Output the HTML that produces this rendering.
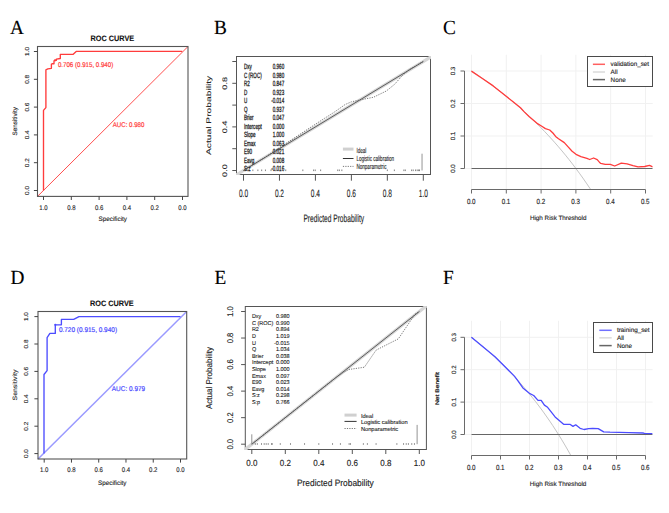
<!DOCTYPE html>
<html><head><meta charset="utf-8"><title>Figure</title>
<style>
html,body{margin:0;padding:0;background:#fff;overflow:hidden;}
svg{display:block;}
text{text-rendering:geometricPrecision;}
</style></head>
<body>
<svg width="669" height="513" viewBox="0 0 669 513">
<rect width="669" height="513" fill="#fff"/>
<text transform="translate(10.10,33.60) rotate(0) scale(1.0,1.04)" x="0" y="0" font-size="19.3" text-anchor="start" fill="#000" stroke="#000" stroke-width="0.15" font-weight="normal" font-family='"Liberation Serif", serif'>A</text>
<text transform="translate(214.10,33.60) rotate(0) scale(1.0,1.04)" x="0" y="0" font-size="19.3" text-anchor="start" fill="#000" stroke="#000" stroke-width="0.15" font-weight="normal" font-family='"Liberation Serif", serif'>B</text>
<text transform="translate(442.90,33.60) rotate(0) scale(1.0,1.04)" x="0" y="0" font-size="19.3" text-anchor="start" fill="#000" stroke="#000" stroke-width="0.15" font-weight="normal" font-family='"Liberation Serif", serif'>C</text>
<text transform="translate(10.50,284.40) rotate(0) scale(1.0,1.04)" x="0" y="0" font-size="19.3" text-anchor="start" fill="#000" stroke="#000" stroke-width="0.15" font-weight="normal" font-family='"Liberation Serif", serif'>D</text>
<text transform="translate(214.40,284.40) rotate(0) scale(1.0,1.04)" x="0" y="0" font-size="19.3" text-anchor="start" fill="#000" stroke="#000" stroke-width="0.15" font-weight="normal" font-family='"Liberation Serif", serif'>E</text>
<text transform="translate(442.90,284.40) rotate(0) scale(1.0,1.04)" x="0" y="0" font-size="19.3" text-anchor="start" fill="#000" stroke="#000" stroke-width="0.15" font-weight="normal" font-family='"Liberation Serif", serif'>F</text>
<line x1="37.50" y1="196.40" x2="188.00" y2="46.50" stroke="#ff5050" stroke-width="1.0" />
<polyline points="43.50,190.40 43.50,110.40 45.90,107.60 45.90,69.80 47.80,68.90 51.40,68.30 51.40,64.10 52.60,63.70 54.00,63.70 54.00,60.90 55.10,60.30 56.40,60.30 56.40,59.10 60.30,58.50 60.30,54.30 73.20,54.30 76.20,51.40 182.30,51.40" fill="none" stroke="#ff3c3c" stroke-width="1.35" stroke-linejoin="round" />
<circle cx="55.1" cy="60.3" r="1.1" fill="#ff3c3c"/>
<rect x="37.50" y="46.50" width="150.50" height="149.90" stroke="#555" stroke-width="1.1" fill="none"/>
<line x1="182.50" y1="196.40" x2="182.50" y2="200.00" stroke="#444" stroke-width="1" />
<text transform="translate(182.50,209.50) rotate(0) scale(0.95,1.06)" x="0" y="0" font-size="6.3" text-anchor="middle" fill="#222" stroke="#222" stroke-width="0.12" font-weight="normal" font-family='"Liberation Sans", sans-serif'>0.0</text>
<line x1="33.90" y1="190.50" x2="37.50" y2="190.50" stroke="#444" stroke-width="1" />
<text transform="translate(28.90,190.50) rotate(-90) scale(1.02,0.92)" x="0" y="0" font-size="6.3" text-anchor="middle" fill="#222" stroke="#222" stroke-width="0.12" font-weight="normal" font-family='"Liberation Sans", sans-serif'>0.0</text>
<line x1="154.70" y1="196.40" x2="154.70" y2="200.00" stroke="#444" stroke-width="1" />
<text transform="translate(154.70,209.50) rotate(0) scale(0.95,1.06)" x="0" y="0" font-size="6.3" text-anchor="middle" fill="#222" stroke="#222" stroke-width="0.12" font-weight="normal" font-family='"Liberation Sans", sans-serif'>0.2</text>
<line x1="33.90" y1="162.70" x2="37.50" y2="162.70" stroke="#444" stroke-width="1" />
<text transform="translate(28.90,162.70) rotate(-90) scale(1.02,0.92)" x="0" y="0" font-size="6.3" text-anchor="middle" fill="#222" stroke="#222" stroke-width="0.12" font-weight="normal" font-family='"Liberation Sans", sans-serif'>0.2</text>
<line x1="126.90" y1="196.40" x2="126.90" y2="200.00" stroke="#444" stroke-width="1" />
<text transform="translate(126.90,209.50) rotate(0) scale(0.95,1.06)" x="0" y="0" font-size="6.3" text-anchor="middle" fill="#222" stroke="#222" stroke-width="0.12" font-weight="normal" font-family='"Liberation Sans", sans-serif'>0.4</text>
<line x1="33.90" y1="134.90" x2="37.50" y2="134.90" stroke="#444" stroke-width="1" />
<text transform="translate(28.90,134.90) rotate(-90) scale(1.02,0.92)" x="0" y="0" font-size="6.3" text-anchor="middle" fill="#222" stroke="#222" stroke-width="0.12" font-weight="normal" font-family='"Liberation Sans", sans-serif'>0.4</text>
<line x1="99.10" y1="196.40" x2="99.10" y2="200.00" stroke="#444" stroke-width="1" />
<text transform="translate(99.10,209.50) rotate(0) scale(0.95,1.06)" x="0" y="0" font-size="6.3" text-anchor="middle" fill="#222" stroke="#222" stroke-width="0.12" font-weight="normal" font-family='"Liberation Sans", sans-serif'>0.6</text>
<line x1="33.90" y1="107.10" x2="37.50" y2="107.10" stroke="#444" stroke-width="1" />
<text transform="translate(28.90,107.10) rotate(-90) scale(1.02,0.92)" x="0" y="0" font-size="6.3" text-anchor="middle" fill="#222" stroke="#222" stroke-width="0.12" font-weight="normal" font-family='"Liberation Sans", sans-serif'>0.6</text>
<line x1="71.30" y1="196.40" x2="71.30" y2="200.00" stroke="#444" stroke-width="1" />
<text transform="translate(71.30,209.50) rotate(0) scale(0.95,1.06)" x="0" y="0" font-size="6.3" text-anchor="middle" fill="#222" stroke="#222" stroke-width="0.12" font-weight="normal" font-family='"Liberation Sans", sans-serif'>0.8</text>
<line x1="33.90" y1="79.30" x2="37.50" y2="79.30" stroke="#444" stroke-width="1" />
<text transform="translate(28.90,79.30) rotate(-90) scale(1.02,0.92)" x="0" y="0" font-size="6.3" text-anchor="middle" fill="#222" stroke="#222" stroke-width="0.12" font-weight="normal" font-family='"Liberation Sans", sans-serif'>0.8</text>
<line x1="43.50" y1="196.40" x2="43.50" y2="200.00" stroke="#444" stroke-width="1" />
<text transform="translate(43.50,209.50) rotate(0) scale(0.95,1.06)" x="0" y="0" font-size="6.3" text-anchor="middle" fill="#222" stroke="#222" stroke-width="0.12" font-weight="normal" font-family='"Liberation Sans", sans-serif'>1.0</text>
<line x1="33.90" y1="51.50" x2="37.50" y2="51.50" stroke="#444" stroke-width="1" />
<text transform="translate(28.90,51.50) rotate(-90) scale(1.02,0.92)" x="0" y="0" font-size="6.3" text-anchor="middle" fill="#222" stroke="#222" stroke-width="0.12" font-weight="normal" font-family='"Liberation Sans", sans-serif'>1.0</text>
<text transform="translate(112.40,41.30) rotate(0) scale(1.0,1.07)" x="0" y="0" font-size="7.3" text-anchor="middle" fill="#111" stroke="#111" stroke-width="0.1" font-weight="bold" font-family='"Liberation Sans", sans-serif'>ROC CURVE</text>
<text x="112.80" y="221.30" font-size="6.3" text-anchor="middle" fill="#222" stroke="#222" stroke-width="0.12" font-weight="normal" font-family='"Liberation Sans", sans-serif' >Specificity</text>
<text transform="translate(17.20,121.30) rotate(-90) scale(1.0,1.0)" x="0" y="0" font-size="6.3" text-anchor="middle" fill="#222" stroke="#222" stroke-width="0.12" font-weight="normal" font-family='"Liberation Sans", sans-serif'>Sensitivity</text>
<text transform="translate(57.90,67.10) rotate(0) scale(0.975,1.1)" x="0" y="0" font-size="6.3" text-anchor="start" fill="#ff3c3c" stroke="#ff3c3c" stroke-width="0.18" font-weight="normal" font-family='"Liberation Sans", sans-serif'>0.706 (0.915, 0.940)</text>
<text transform="translate(112.70,126.60) rotate(0) scale(0.975,1.1)" x="0" y="0" font-size="6.3" text-anchor="start" fill="#ff3c3c" stroke="#ff3c3c" stroke-width="0.18" font-weight="normal" font-family='"Liberation Sans", sans-serif'>AUC: 0.980</text>
<line x1="38.00" y1="459.00" x2="186.70" y2="311.50" stroke="#9a9aff" stroke-width="1.5" />
<polyline points="44.00,453.60 44.00,374.50 47.10,370.60 47.10,337.60 49.90,333.40 55.30,333.40 55.30,324.80 61.40,324.80 61.40,319.40 73.70,319.40 79.00,316.60 180.50,316.60" fill="none" stroke="#4c4cff" stroke-width="1.35" stroke-linejoin="round" />
<circle cx="55.3" cy="324.8" r="1.1" fill="#4c4cff"/>
<rect x="38.00" y="311.50" width="148.70" height="147.50" stroke="#555" stroke-width="1.1" fill="none"/>
<line x1="180.50" y1="459.00" x2="180.50" y2="462.60" stroke="#444" stroke-width="1" />
<text transform="translate(180.50,472.30) rotate(0) scale(0.95,1.06)" x="0" y="0" font-size="6.3" text-anchor="middle" fill="#222" stroke="#222" stroke-width="0.12" font-weight="normal" font-family='"Liberation Sans", sans-serif'>0.0</text>
<line x1="34.40" y1="453.60" x2="38.00" y2="453.60" stroke="#444" stroke-width="1" />
<text transform="translate(28.30,453.60) rotate(-90) scale(1.02,0.92)" x="0" y="0" font-size="6.3" text-anchor="middle" fill="#222" stroke="#222" stroke-width="0.12" font-weight="normal" font-family='"Liberation Sans", sans-serif'>0.0</text>
<line x1="153.24" y1="459.00" x2="153.24" y2="462.60" stroke="#444" stroke-width="1" />
<text transform="translate(153.24,472.30) rotate(0) scale(0.95,1.06)" x="0" y="0" font-size="6.3" text-anchor="middle" fill="#222" stroke="#222" stroke-width="0.12" font-weight="normal" font-family='"Liberation Sans", sans-serif'>0.2</text>
<line x1="34.40" y1="426.20" x2="38.00" y2="426.20" stroke="#444" stroke-width="1" />
<text transform="translate(28.30,426.20) rotate(-90) scale(1.02,0.92)" x="0" y="0" font-size="6.3" text-anchor="middle" fill="#222" stroke="#222" stroke-width="0.12" font-weight="normal" font-family='"Liberation Sans", sans-serif'>0.2</text>
<line x1="125.98" y1="459.00" x2="125.98" y2="462.60" stroke="#444" stroke-width="1" />
<text transform="translate(125.98,472.30) rotate(0) scale(0.95,1.06)" x="0" y="0" font-size="6.3" text-anchor="middle" fill="#222" stroke="#222" stroke-width="0.12" font-weight="normal" font-family='"Liberation Sans", sans-serif'>0.4</text>
<line x1="34.40" y1="398.80" x2="38.00" y2="398.80" stroke="#444" stroke-width="1" />
<text transform="translate(28.30,398.80) rotate(-90) scale(1.02,0.92)" x="0" y="0" font-size="6.3" text-anchor="middle" fill="#222" stroke="#222" stroke-width="0.12" font-weight="normal" font-family='"Liberation Sans", sans-serif'>0.4</text>
<line x1="98.72" y1="459.00" x2="98.72" y2="462.60" stroke="#444" stroke-width="1" />
<text transform="translate(98.72,472.30) rotate(0) scale(0.95,1.06)" x="0" y="0" font-size="6.3" text-anchor="middle" fill="#222" stroke="#222" stroke-width="0.12" font-weight="normal" font-family='"Liberation Sans", sans-serif'>0.6</text>
<line x1="34.40" y1="371.40" x2="38.00" y2="371.40" stroke="#444" stroke-width="1" />
<text transform="translate(28.30,371.40) rotate(-90) scale(1.02,0.92)" x="0" y="0" font-size="6.3" text-anchor="middle" fill="#222" stroke="#222" stroke-width="0.12" font-weight="normal" font-family='"Liberation Sans", sans-serif'>0.6</text>
<line x1="71.46" y1="459.00" x2="71.46" y2="462.60" stroke="#444" stroke-width="1" />
<text transform="translate(71.46,472.30) rotate(0) scale(0.95,1.06)" x="0" y="0" font-size="6.3" text-anchor="middle" fill="#222" stroke="#222" stroke-width="0.12" font-weight="normal" font-family='"Liberation Sans", sans-serif'>0.8</text>
<line x1="34.40" y1="344.00" x2="38.00" y2="344.00" stroke="#444" stroke-width="1" />
<text transform="translate(28.30,344.00) rotate(-90) scale(1.02,0.92)" x="0" y="0" font-size="6.3" text-anchor="middle" fill="#222" stroke="#222" stroke-width="0.12" font-weight="normal" font-family='"Liberation Sans", sans-serif'>0.8</text>
<line x1="44.20" y1="459.00" x2="44.20" y2="462.60" stroke="#444" stroke-width="1" />
<text transform="translate(44.20,472.30) rotate(0) scale(0.95,1.06)" x="0" y="0" font-size="6.3" text-anchor="middle" fill="#222" stroke="#222" stroke-width="0.12" font-weight="normal" font-family='"Liberation Sans", sans-serif'>1.0</text>
<line x1="34.40" y1="316.60" x2="38.00" y2="316.60" stroke="#444" stroke-width="1" />
<text transform="translate(28.30,316.60) rotate(-90) scale(1.02,0.92)" x="0" y="0" font-size="6.3" text-anchor="middle" fill="#222" stroke="#222" stroke-width="0.12" font-weight="normal" font-family='"Liberation Sans", sans-serif'>1.0</text>
<text transform="translate(111.90,305.60) rotate(0) scale(1.0,1.07)" x="0" y="0" font-size="7.3" text-anchor="middle" fill="#111" stroke="#111" stroke-width="0.1" font-weight="bold" font-family='"Liberation Sans", sans-serif'>ROC CURVE</text>
<text x="112.30" y="485.00" font-size="6.3" text-anchor="middle" fill="#222" stroke="#222" stroke-width="0.12" font-weight="normal" font-family='"Liberation Sans", sans-serif' >Specificity</text>
<text transform="translate(16.60,385.00) rotate(-90) scale(1.0,0.9208103130755064)" x="0" y="0" font-size="6.8418" text-anchor="middle" fill="#222" stroke="#222" stroke-width="0.12" font-weight="normal" font-family='"Liberation Sans", sans-serif'>Sensitivity</text>
<text transform="translate(58.90,331.70) rotate(0) scale(1.025,1.1)" x="0" y="0" font-size="6.3" text-anchor="start" fill="#4c4cff" stroke="#4c4cff" stroke-width="0.18" font-weight="normal" font-family='"Liberation Sans", sans-serif'>0.720 (0.915, 0.940)</text>
<text transform="translate(111.80,390.70) rotate(0) scale(1.025,1.1)" x="0" y="0" font-size="6.3" text-anchor="start" fill="#4c4cff" stroke="#4c4cff" stroke-width="0.18" font-weight="normal" font-family='"Liberation Sans", sans-serif'>AUC: 0.979</text>
<rect x="236.50" y="56.50" width="194.00" height="118.00" stroke="#555" stroke-width="1.0" fill="none"/>
<line x1="243.50" y1="174.50" x2="243.50" y2="180.70" stroke="#555" stroke-width="1" />
<text transform="translate(243.50,197.00) rotate(0) scale(0.62,1.0)" x="0" y="0" font-size="10.6" text-anchor="middle" fill="#222" stroke="#222" stroke-width="0.12" font-weight="normal" font-family='"Liberation Sans", sans-serif'>0.0</text>
<line x1="232.30" y1="170.50" x2="236.50" y2="170.50" stroke="#555" stroke-width="1" />
<text transform="translate(227.00,170.50) rotate(-90) scale(1.0,0.72)" x="0" y="0" font-size="9.2" text-anchor="middle" fill="#222" stroke="#222" stroke-width="0.12" font-weight="normal" font-family='"Liberation Sans", sans-serif'>0.0</text>
<line x1="279.46" y1="174.50" x2="279.46" y2="180.70" stroke="#555" stroke-width="1" />
<text transform="translate(279.46,197.00) rotate(0) scale(0.62,1.0)" x="0" y="0" font-size="10.6" text-anchor="middle" fill="#222" stroke="#222" stroke-width="0.12" font-weight="normal" font-family='"Liberation Sans", sans-serif'>0.2</text>
<line x1="232.30" y1="148.70" x2="236.50" y2="148.70" stroke="#555" stroke-width="1" />
<line x1="315.42" y1="174.50" x2="315.42" y2="180.70" stroke="#555" stroke-width="1" />
<text transform="translate(315.42,197.00) rotate(0) scale(0.62,1.0)" x="0" y="0" font-size="10.6" text-anchor="middle" fill="#222" stroke="#222" stroke-width="0.12" font-weight="normal" font-family='"Liberation Sans", sans-serif'>0.4</text>
<line x1="232.30" y1="126.90" x2="236.50" y2="126.90" stroke="#555" stroke-width="1" />
<text transform="translate(227.00,126.90) rotate(-90) scale(1.0,0.72)" x="0" y="0" font-size="9.2" text-anchor="middle" fill="#222" stroke="#222" stroke-width="0.12" font-weight="normal" font-family='"Liberation Sans", sans-serif'>0.4</text>
<line x1="351.38" y1="174.50" x2="351.38" y2="180.70" stroke="#555" stroke-width="1" />
<text transform="translate(351.38,197.00) rotate(0) scale(0.62,1.0)" x="0" y="0" font-size="10.6" text-anchor="middle" fill="#222" stroke="#222" stroke-width="0.12" font-weight="normal" font-family='"Liberation Sans", sans-serif'>0.6</text>
<line x1="232.30" y1="105.10" x2="236.50" y2="105.10" stroke="#555" stroke-width="1" />
<line x1="387.34" y1="174.50" x2="387.34" y2="180.70" stroke="#555" stroke-width="1" />
<text transform="translate(387.34,197.00) rotate(0) scale(0.62,1.0)" x="0" y="0" font-size="10.6" text-anchor="middle" fill="#222" stroke="#222" stroke-width="0.12" font-weight="normal" font-family='"Liberation Sans", sans-serif'>0.8</text>
<line x1="232.30" y1="83.30" x2="236.50" y2="83.30" stroke="#555" stroke-width="1" />
<text transform="translate(227.00,83.30) rotate(-90) scale(1.0,0.72)" x="0" y="0" font-size="9.2" text-anchor="middle" fill="#222" stroke="#222" stroke-width="0.12" font-weight="normal" font-family='"Liberation Sans", sans-serif'>0.8</text>
<line x1="423.30" y1="174.50" x2="423.30" y2="180.70" stroke="#555" stroke-width="1" />
<text transform="translate(423.30,197.00) rotate(0) scale(0.62,1.0)" x="0" y="0" font-size="10.6" text-anchor="middle" fill="#222" stroke="#222" stroke-width="0.12" font-weight="normal" font-family='"Liberation Sans", sans-serif'>1.0</text>
<line x1="232.30" y1="61.50" x2="236.50" y2="61.50" stroke="#555" stroke-width="1" />
<clipPath id="clipB"><rect x="236.0" y="56.0" width="195.0" height="119.0"/></clipPath>
<g clip-path="url(#clipB)">
<line x1="232.71" y1="177.04" x2="434.09" y2="54.96" stroke="#d6d6d6" stroke-width="3.2" />
</g>
<clipPath id="clipBb"><rect x="237.0" y="57.0" width="193.0" height="117.0"/></clipPath>
<g clip-path="url(#clipBb)">
<text transform="translate(244.00,69.00) rotate(0) scale(0.6,1.0)" x="0" y="0" font-size="7.6" text-anchor="start" fill="#1a1a1a" stroke="#1a1a1a" stroke-width="0.3" font-weight="normal" font-family='"Liberation Sans", sans-serif'>Dxy</text>
<text transform="translate(284.20,69.00) rotate(0) scale(0.6,1.0)" x="0" y="0" font-size="7.6" text-anchor="end" fill="#1a1a1a" stroke="#1a1a1a" stroke-width="0.3" font-weight="normal" font-family='"Liberation Sans", sans-serif'>0.960</text>
<text transform="translate(244.00,77.50) rotate(0) scale(0.6,1.0)" x="0" y="0" font-size="7.6" text-anchor="start" fill="#1a1a1a" stroke="#1a1a1a" stroke-width="0.3" font-weight="normal" font-family='"Liberation Sans", sans-serif'>C (ROC)</text>
<text transform="translate(284.20,77.50) rotate(0) scale(0.6,1.0)" x="0" y="0" font-size="7.6" text-anchor="end" fill="#1a1a1a" stroke="#1a1a1a" stroke-width="0.3" font-weight="normal" font-family='"Liberation Sans", sans-serif'>0.980</text>
<text transform="translate(244.00,86.00) rotate(0) scale(0.6,1.0)" x="0" y="0" font-size="7.6" text-anchor="start" fill="#1a1a1a" stroke="#1a1a1a" stroke-width="0.3" font-weight="normal" font-family='"Liberation Sans", sans-serif'>R2</text>
<text transform="translate(284.20,86.00) rotate(0) scale(0.6,1.0)" x="0" y="0" font-size="7.6" text-anchor="end" fill="#1a1a1a" stroke="#1a1a1a" stroke-width="0.3" font-weight="normal" font-family='"Liberation Sans", sans-serif'>0.847</text>
<text transform="translate(244.00,94.50) rotate(0) scale(0.6,1.0)" x="0" y="0" font-size="7.6" text-anchor="start" fill="#1a1a1a" stroke="#1a1a1a" stroke-width="0.3" font-weight="normal" font-family='"Liberation Sans", sans-serif'>D</text>
<text transform="translate(284.20,94.50) rotate(0) scale(0.6,1.0)" x="0" y="0" font-size="7.6" text-anchor="end" fill="#1a1a1a" stroke="#1a1a1a" stroke-width="0.3" font-weight="normal" font-family='"Liberation Sans", sans-serif'>0.923</text>
<text transform="translate(244.00,103.00) rotate(0) scale(0.6,1.0)" x="0" y="0" font-size="7.6" text-anchor="start" fill="#1a1a1a" stroke="#1a1a1a" stroke-width="0.3" font-weight="normal" font-family='"Liberation Sans", sans-serif'>U</text>
<text transform="translate(284.20,103.00) rotate(0) scale(0.6,1.0)" x="0" y="0" font-size="7.6" text-anchor="end" fill="#1a1a1a" stroke="#1a1a1a" stroke-width="0.3" font-weight="normal" font-family='"Liberation Sans", sans-serif'>-0.014</text>
<text transform="translate(244.00,111.50) rotate(0) scale(0.6,1.0)" x="0" y="0" font-size="7.6" text-anchor="start" fill="#1a1a1a" stroke="#1a1a1a" stroke-width="0.3" font-weight="normal" font-family='"Liberation Sans", sans-serif'>Q</text>
<text transform="translate(284.20,111.50) rotate(0) scale(0.6,1.0)" x="0" y="0" font-size="7.6" text-anchor="end" fill="#1a1a1a" stroke="#1a1a1a" stroke-width="0.3" font-weight="normal" font-family='"Liberation Sans", sans-serif'>0.937</text>
<text transform="translate(244.00,120.00) rotate(0) scale(0.6,1.0)" x="0" y="0" font-size="7.6" text-anchor="start" fill="#1a1a1a" stroke="#1a1a1a" stroke-width="0.3" font-weight="normal" font-family='"Liberation Sans", sans-serif'>Brier</text>
<text transform="translate(284.20,120.00) rotate(0) scale(0.6,1.0)" x="0" y="0" font-size="7.6" text-anchor="end" fill="#1a1a1a" stroke="#1a1a1a" stroke-width="0.3" font-weight="normal" font-family='"Liberation Sans", sans-serif'>0.047</text>
<text transform="translate(244.00,128.50) rotate(0) scale(0.6,1.0)" x="0" y="0" font-size="7.6" text-anchor="start" fill="#1a1a1a" stroke="#1a1a1a" stroke-width="0.3" font-weight="normal" font-family='"Liberation Sans", sans-serif'>Intercept</text>
<text transform="translate(284.20,128.50) rotate(0) scale(0.6,1.0)" x="0" y="0" font-size="7.6" text-anchor="end" fill="#1a1a1a" stroke="#1a1a1a" stroke-width="0.3" font-weight="normal" font-family='"Liberation Sans", sans-serif'>0.000</text>
<text transform="translate(244.00,137.00) rotate(0) scale(0.6,1.0)" x="0" y="0" font-size="7.6" text-anchor="start" fill="#1a1a1a" stroke="#1a1a1a" stroke-width="0.3" font-weight="normal" font-family='"Liberation Sans", sans-serif'>Slope</text>
<text transform="translate(284.20,137.00) rotate(0) scale(0.6,1.0)" x="0" y="0" font-size="7.6" text-anchor="end" fill="#1a1a1a" stroke="#1a1a1a" stroke-width="0.3" font-weight="normal" font-family='"Liberation Sans", sans-serif'>1.000</text>
<text transform="translate(244.00,145.50) rotate(0) scale(0.6,1.0)" x="0" y="0" font-size="7.6" text-anchor="start" fill="#1a1a1a" stroke="#1a1a1a" stroke-width="0.3" font-weight="normal" font-family='"Liberation Sans", sans-serif'>Emax</text>
<text transform="translate(284.20,145.50) rotate(0) scale(0.6,1.0)" x="0" y="0" font-size="7.6" text-anchor="end" fill="#1a1a1a" stroke="#1a1a1a" stroke-width="0.3" font-weight="normal" font-family='"Liberation Sans", sans-serif'>0.063</text>
<text transform="translate(244.00,154.00) rotate(0) scale(0.6,1.0)" x="0" y="0" font-size="7.6" text-anchor="start" fill="#1a1a1a" stroke="#1a1a1a" stroke-width="0.3" font-weight="normal" font-family='"Liberation Sans", sans-serif'>E90</text>
<text transform="translate(284.20,154.00) rotate(0) scale(0.6,1.0)" x="0" y="0" font-size="7.6" text-anchor="end" fill="#1a1a1a" stroke="#1a1a1a" stroke-width="0.3" font-weight="normal" font-family='"Liberation Sans", sans-serif'>0.021</text>
<text transform="translate(244.00,162.50) rotate(0) scale(0.6,1.0)" x="0" y="0" font-size="7.6" text-anchor="start" fill="#1a1a1a" stroke="#1a1a1a" stroke-width="0.3" font-weight="normal" font-family='"Liberation Sans", sans-serif'>Eavg</text>
<text transform="translate(284.20,162.50) rotate(0) scale(0.6,1.0)" x="0" y="0" font-size="7.6" text-anchor="end" fill="#1a1a1a" stroke="#1a1a1a" stroke-width="0.3" font-weight="normal" font-family='"Liberation Sans", sans-serif'>0.008</text>
<text transform="translate(244.00,171.00) rotate(0) scale(0.6,1.0)" x="0" y="0" font-size="7.6" text-anchor="start" fill="#1a1a1a" stroke="#1a1a1a" stroke-width="0.3" font-weight="normal" font-family='"Liberation Sans", sans-serif'>S:z</text>
<text transform="translate(284.20,171.00) rotate(0) scale(0.6,1.0)" x="0" y="0" font-size="7.6" text-anchor="end" fill="#1a1a1a" stroke="#1a1a1a" stroke-width="0.3" font-weight="normal" font-family='"Liberation Sans", sans-serif'>-0.016</text>
<text transform="translate(244.00,179.50) rotate(0) scale(0.6,1.0)" x="0" y="0" font-size="7.6" text-anchor="start" fill="#1a1a1a" stroke="#1a1a1a" stroke-width="0.3" font-weight="normal" font-family='"Liberation Sans", sans-serif'>S:p</text>
<text transform="translate(284.20,179.50) rotate(0) scale(0.6,1.0)" x="0" y="0" font-size="7.6" text-anchor="end" fill="#1a1a1a" stroke="#1a1a1a" stroke-width="0.3" font-weight="normal" font-family='"Liberation Sans", sans-serif'>0.987</text>
<line x1="243.50" y1="170.50" x2="423.30" y2="61.50" stroke="#444" stroke-width="0.85" />
<polyline points="243.50,170.50 261.48,159.60 279.46,147.83 299.96,134.31 315.42,124.18 324.41,118.40 333.40,112.73 340.05,108.15 345.09,104.56 351.38,101.83 359.29,100.09 373.50,97.25 386.26,91.04 394.53,84.39 401.90,76.00 408.92,69.67 423.30,61.50" fill="none" stroke="#555" stroke-width="0.8" stroke-linejoin="round" stroke-dasharray="1.2,1.2"/>
<line x1="252.85" y1="169.50" x2="252.85" y2="171.10" stroke="#666" stroke-width="0.8" />
<line x1="257.88" y1="169.50" x2="257.88" y2="171.10" stroke="#666" stroke-width="0.8" />
<line x1="261.66" y1="169.50" x2="261.66" y2="171.10" stroke="#666" stroke-width="0.8" />
<line x1="265.44" y1="169.50" x2="265.44" y2="171.10" stroke="#666" stroke-width="0.8" />
<line x1="271.01" y1="169.50" x2="271.01" y2="171.10" stroke="#666" stroke-width="0.8" />
<line x1="285.75" y1="169.50" x2="285.75" y2="171.10" stroke="#666" stroke-width="0.8" />
<line x1="302.83" y1="169.50" x2="302.83" y2="171.10" stroke="#666" stroke-width="0.8" />
<line x1="313.62" y1="169.50" x2="313.62" y2="171.10" stroke="#666" stroke-width="0.8" />
<line x1="315.24" y1="169.50" x2="315.24" y2="171.10" stroke="#666" stroke-width="0.8" />
<line x1="320.63" y1="169.50" x2="320.63" y2="171.10" stroke="#666" stroke-width="0.8" />
<line x1="337.72" y1="169.50" x2="337.72" y2="171.10" stroke="#666" stroke-width="0.8" />
<line x1="339.33" y1="169.50" x2="339.33" y2="171.10" stroke="#666" stroke-width="0.8" />
<line x1="341.85" y1="169.50" x2="341.85" y2="171.10" stroke="#666" stroke-width="0.8" />
<line x1="387.34" y1="169.50" x2="387.34" y2="171.10" stroke="#666" stroke-width="0.8" />
<line x1="394.35" y1="169.50" x2="394.35" y2="171.10" stroke="#666" stroke-width="0.8" />
<line x1="403.88" y1="169.50" x2="403.88" y2="171.10" stroke="#666" stroke-width="0.8" />
<line x1="405.32" y1="169.50" x2="405.32" y2="171.10" stroke="#666" stroke-width="0.8" />
<line x1="411.61" y1="169.50" x2="411.61" y2="171.10" stroke="#666" stroke-width="0.8" />
<line x1="413.23" y1="169.50" x2="413.23" y2="171.10" stroke="#666" stroke-width="0.8" />
<line x1="415.57" y1="169.50" x2="415.57" y2="171.10" stroke="#666" stroke-width="0.8" />
<line x1="417.19" y1="169.50" x2="417.19" y2="171.10" stroke="#666" stroke-width="0.8" />
<line x1="418.63" y1="169.50" x2="418.63" y2="171.10" stroke="#666" stroke-width="0.8" />
<line x1="419.52" y1="169.50" x2="419.52" y2="171.10" stroke="#666" stroke-width="0.8" />
<line x1="422.04" y1="170.50" x2="422.04" y2="153.70" stroke="#888" stroke-width="0.9" />
</g>
<line x1="342.90" y1="149.10" x2="353.50" y2="149.10" stroke="#d0d0d0" stroke-width="3" />
<line x1="342.90" y1="158.50" x2="353.50" y2="158.50" stroke="#333" stroke-width="1" />
<line x1="342.90" y1="166.40" x2="353.50" y2="166.40" stroke="#555" stroke-width="0.8" stroke-dasharray="1.2,1.2"/>
<text transform="translate(356.40,152.86) rotate(0) scale(0.62,1.0)" x="0" y="0" font-size="7.4" text-anchor="start" fill="#222" stroke="#222" stroke-width="0.12" font-weight="normal" font-family='"Liberation Sans", sans-serif'>Ideal</text>
<text transform="translate(356.40,161.16) rotate(0) scale(0.62,1.0)" x="0" y="0" font-size="7.4" text-anchor="start" fill="#222" stroke="#222" stroke-width="0.12" font-weight="normal" font-family='"Liberation Sans", sans-serif'>Logistic calibration</text>
<text transform="translate(356.40,169.06) rotate(0) scale(0.62,1.0)" x="0" y="0" font-size="7.4" text-anchor="start" fill="#222" stroke="#222" stroke-width="0.12" font-weight="normal" font-family='"Liberation Sans", sans-serif'>Nonparametric</text>
<text transform="translate(333.80,221.70) rotate(0) scale(0.62,1.0)" x="0" y="0" font-size="10.7" text-anchor="middle" fill="#222" stroke="#222" stroke-width="0.12" font-weight="normal" font-family='"Liberation Sans", sans-serif'>Predicted Probability</text>
<text transform="translate(211.20,115.40) rotate(-90) scale(1.0,0.651)" x="0" y="0" font-size="10.271999999999998" text-anchor="middle" fill="#222" stroke="#222" stroke-width="0.12" font-weight="normal" font-family='"Liberation Sans", sans-serif'>Actual Probability</text>
<rect x="245.30" y="306.50" width="181.10" height="143.00" stroke="#555" stroke-width="1.0" fill="none"/>
<line x1="251.80" y1="449.50" x2="251.80" y2="454.00" stroke="#555" stroke-width="1" />
<text transform="translate(251.80,466.30) rotate(0) scale(1.0,1.1)" x="0" y="0" font-size="8.0" text-anchor="middle" fill="#222" stroke="#222" stroke-width="0.12" font-weight="normal" font-family='"Liberation Sans", sans-serif'>0.0</text>
<line x1="241.10" y1="444.20" x2="245.30" y2="444.20" stroke="#555" stroke-width="1" />
<text transform="translate(233.20,444.20) rotate(-90) scale(1.0,1.1)" x="0" y="0" font-size="7.6" text-anchor="middle" fill="#222" stroke="#222" stroke-width="0.12" font-weight="normal" font-family='"Liberation Sans", sans-serif'>0.0</text>
<line x1="285.30" y1="449.50" x2="285.30" y2="454.00" stroke="#555" stroke-width="1" />
<text transform="translate(285.30,466.30) rotate(0) scale(1.0,1.1)" x="0" y="0" font-size="8.0" text-anchor="middle" fill="#222" stroke="#222" stroke-width="0.12" font-weight="normal" font-family='"Liberation Sans", sans-serif'>0.2</text>
<line x1="241.10" y1="417.66" x2="245.30" y2="417.66" stroke="#555" stroke-width="1" />
<text transform="translate(233.20,417.66) rotate(-90) scale(1.0,1.1)" x="0" y="0" font-size="7.6" text-anchor="middle" fill="#222" stroke="#222" stroke-width="0.12" font-weight="normal" font-family='"Liberation Sans", sans-serif'>0.2</text>
<line x1="318.80" y1="449.50" x2="318.80" y2="454.00" stroke="#555" stroke-width="1" />
<text transform="translate(318.80,466.30) rotate(0) scale(1.0,1.1)" x="0" y="0" font-size="8.0" text-anchor="middle" fill="#222" stroke="#222" stroke-width="0.12" font-weight="normal" font-family='"Liberation Sans", sans-serif'>0.4</text>
<line x1="241.10" y1="391.12" x2="245.30" y2="391.12" stroke="#555" stroke-width="1" />
<text transform="translate(233.20,391.12) rotate(-90) scale(1.0,1.1)" x="0" y="0" font-size="7.6" text-anchor="middle" fill="#222" stroke="#222" stroke-width="0.12" font-weight="normal" font-family='"Liberation Sans", sans-serif'>0.4</text>
<line x1="352.30" y1="449.50" x2="352.30" y2="454.00" stroke="#555" stroke-width="1" />
<text transform="translate(352.30,466.30) rotate(0) scale(1.0,1.1)" x="0" y="0" font-size="8.0" text-anchor="middle" fill="#222" stroke="#222" stroke-width="0.12" font-weight="normal" font-family='"Liberation Sans", sans-serif'>0.6</text>
<line x1="241.10" y1="364.58" x2="245.30" y2="364.58" stroke="#555" stroke-width="1" />
<text transform="translate(233.20,364.58) rotate(-90) scale(1.0,1.1)" x="0" y="0" font-size="7.6" text-anchor="middle" fill="#222" stroke="#222" stroke-width="0.12" font-weight="normal" font-family='"Liberation Sans", sans-serif'>0.6</text>
<line x1="385.80" y1="449.50" x2="385.80" y2="454.00" stroke="#555" stroke-width="1" />
<text transform="translate(385.80,466.30) rotate(0) scale(1.0,1.1)" x="0" y="0" font-size="8.0" text-anchor="middle" fill="#222" stroke="#222" stroke-width="0.12" font-weight="normal" font-family='"Liberation Sans", sans-serif'>0.8</text>
<line x1="241.10" y1="338.04" x2="245.30" y2="338.04" stroke="#555" stroke-width="1" />
<text transform="translate(233.20,338.04) rotate(-90) scale(1.0,1.1)" x="0" y="0" font-size="7.6" text-anchor="middle" fill="#222" stroke="#222" stroke-width="0.12" font-weight="normal" font-family='"Liberation Sans", sans-serif'>0.8</text>
<line x1="419.30" y1="449.50" x2="419.30" y2="454.00" stroke="#555" stroke-width="1" />
<text transform="translate(419.30,466.30) rotate(0) scale(1.0,1.1)" x="0" y="0" font-size="8.0" text-anchor="middle" fill="#222" stroke="#222" stroke-width="0.12" font-weight="normal" font-family='"Liberation Sans", sans-serif'>1.0</text>
<line x1="241.10" y1="311.50" x2="245.30" y2="311.50" stroke="#555" stroke-width="1" />
<text transform="translate(233.20,311.50) rotate(-90) scale(1.0,1.1)" x="0" y="0" font-size="7.6" text-anchor="middle" fill="#222" stroke="#222" stroke-width="0.12" font-weight="normal" font-family='"Liberation Sans", sans-serif'>1.0</text>
<clipPath id="clipE"><rect x="244.8" y="306.0" width="182.09999999999997" height="144.0"/></clipPath>
<g clip-path="url(#clipE)">
<line x1="241.75" y1="452.16" x2="429.35" y2="303.54" stroke="#d6d6d6" stroke-width="3.2" />
</g>
<clipPath id="clipEb"><rect x="245.8" y="307.0" width="180.09999999999997" height="142.0"/></clipPath>
<g clip-path="url(#clipEb)">
<text transform="translate(251.90,318.10) rotate(0) scale(0.98,1.0)" x="0" y="0" font-size="5.6" text-anchor="start" fill="#1a1a1a" stroke="#1a1a1a" stroke-width="0.1" font-weight="normal" font-family='"Liberation Sans", sans-serif'>Dxy</text>
<text transform="translate(289.60,318.10) rotate(0) scale(0.98,1.0)" x="0" y="0" font-size="5.6" text-anchor="end" fill="#1a1a1a" stroke="#1a1a1a" stroke-width="0.1" font-weight="normal" font-family='"Liberation Sans", sans-serif'>0.980</text>
<text transform="translate(251.90,324.70) rotate(0) scale(0.98,1.0)" x="0" y="0" font-size="5.6" text-anchor="start" fill="#1a1a1a" stroke="#1a1a1a" stroke-width="0.1" font-weight="normal" font-family='"Liberation Sans", sans-serif'>C (ROC)</text>
<text transform="translate(289.60,324.70) rotate(0) scale(0.98,1.0)" x="0" y="0" font-size="5.6" text-anchor="end" fill="#1a1a1a" stroke="#1a1a1a" stroke-width="0.1" font-weight="normal" font-family='"Liberation Sans", sans-serif'>0.990</text>
<text transform="translate(251.90,331.30) rotate(0) scale(0.98,1.0)" x="0" y="0" font-size="5.6" text-anchor="start" fill="#1a1a1a" stroke="#1a1a1a" stroke-width="0.1" font-weight="normal" font-family='"Liberation Sans", sans-serif'>R2</text>
<text transform="translate(289.60,331.30) rotate(0) scale(0.98,1.0)" x="0" y="0" font-size="5.6" text-anchor="end" fill="#1a1a1a" stroke="#1a1a1a" stroke-width="0.1" font-weight="normal" font-family='"Liberation Sans", sans-serif'>0.894</text>
<text transform="translate(251.90,337.90) rotate(0) scale(0.98,1.0)" x="0" y="0" font-size="5.6" text-anchor="start" fill="#1a1a1a" stroke="#1a1a1a" stroke-width="0.1" font-weight="normal" font-family='"Liberation Sans", sans-serif'>D</text>
<text transform="translate(289.60,337.90) rotate(0) scale(0.98,1.0)" x="0" y="0" font-size="5.6" text-anchor="end" fill="#1a1a1a" stroke="#1a1a1a" stroke-width="0.1" font-weight="normal" font-family='"Liberation Sans", sans-serif'>1.019</text>
<text transform="translate(251.90,344.50) rotate(0) scale(0.98,1.0)" x="0" y="0" font-size="5.6" text-anchor="start" fill="#1a1a1a" stroke="#1a1a1a" stroke-width="0.1" font-weight="normal" font-family='"Liberation Sans", sans-serif'>U</text>
<text transform="translate(289.60,344.50) rotate(0) scale(0.98,1.0)" x="0" y="0" font-size="5.6" text-anchor="end" fill="#1a1a1a" stroke="#1a1a1a" stroke-width="0.1" font-weight="normal" font-family='"Liberation Sans", sans-serif'>-0.015</text>
<text transform="translate(251.90,351.10) rotate(0) scale(0.98,1.0)" x="0" y="0" font-size="5.6" text-anchor="start" fill="#1a1a1a" stroke="#1a1a1a" stroke-width="0.1" font-weight="normal" font-family='"Liberation Sans", sans-serif'>Q</text>
<text transform="translate(289.60,351.10) rotate(0) scale(0.98,1.0)" x="0" y="0" font-size="5.6" text-anchor="end" fill="#1a1a1a" stroke="#1a1a1a" stroke-width="0.1" font-weight="normal" font-family='"Liberation Sans", sans-serif'>1.034</text>
<text transform="translate(251.90,357.70) rotate(0) scale(0.98,1.0)" x="0" y="0" font-size="5.6" text-anchor="start" fill="#1a1a1a" stroke="#1a1a1a" stroke-width="0.1" font-weight="normal" font-family='"Liberation Sans", sans-serif'>Brier</text>
<text transform="translate(289.60,357.70) rotate(0) scale(0.98,1.0)" x="0" y="0" font-size="5.6" text-anchor="end" fill="#1a1a1a" stroke="#1a1a1a" stroke-width="0.1" font-weight="normal" font-family='"Liberation Sans", sans-serif'>0.038</text>
<text transform="translate(251.90,364.30) rotate(0) scale(0.98,1.0)" x="0" y="0" font-size="5.6" text-anchor="start" fill="#1a1a1a" stroke="#1a1a1a" stroke-width="0.1" font-weight="normal" font-family='"Liberation Sans", sans-serif'>Intercept</text>
<text transform="translate(289.60,364.30) rotate(0) scale(0.98,1.0)" x="0" y="0" font-size="5.6" text-anchor="end" fill="#1a1a1a" stroke="#1a1a1a" stroke-width="0.1" font-weight="normal" font-family='"Liberation Sans", sans-serif'>0.000</text>
<text transform="translate(251.90,370.90) rotate(0) scale(0.98,1.0)" x="0" y="0" font-size="5.6" text-anchor="start" fill="#1a1a1a" stroke="#1a1a1a" stroke-width="0.1" font-weight="normal" font-family='"Liberation Sans", sans-serif'>Slope</text>
<text transform="translate(289.60,370.90) rotate(0) scale(0.98,1.0)" x="0" y="0" font-size="5.6" text-anchor="end" fill="#1a1a1a" stroke="#1a1a1a" stroke-width="0.1" font-weight="normal" font-family='"Liberation Sans", sans-serif'>1.000</text>
<text transform="translate(251.90,377.50) rotate(0) scale(0.98,1.0)" x="0" y="0" font-size="5.6" text-anchor="start" fill="#1a1a1a" stroke="#1a1a1a" stroke-width="0.1" font-weight="normal" font-family='"Liberation Sans", sans-serif'>Emax</text>
<text transform="translate(289.60,377.50) rotate(0) scale(0.98,1.0)" x="0" y="0" font-size="5.6" text-anchor="end" fill="#1a1a1a" stroke="#1a1a1a" stroke-width="0.1" font-weight="normal" font-family='"Liberation Sans", sans-serif'>0.097</text>
<text transform="translate(251.90,384.10) rotate(0) scale(0.98,1.0)" x="0" y="0" font-size="5.6" text-anchor="start" fill="#1a1a1a" stroke="#1a1a1a" stroke-width="0.1" font-weight="normal" font-family='"Liberation Sans", sans-serif'>E90</text>
<text transform="translate(289.60,384.10) rotate(0) scale(0.98,1.0)" x="0" y="0" font-size="5.6" text-anchor="end" fill="#1a1a1a" stroke="#1a1a1a" stroke-width="0.1" font-weight="normal" font-family='"Liberation Sans", sans-serif'>0.023</text>
<text transform="translate(251.90,390.70) rotate(0) scale(0.98,1.0)" x="0" y="0" font-size="5.6" text-anchor="start" fill="#1a1a1a" stroke="#1a1a1a" stroke-width="0.1" font-weight="normal" font-family='"Liberation Sans", sans-serif'>Eavg</text>
<text transform="translate(289.60,390.70) rotate(0) scale(0.98,1.0)" x="0" y="0" font-size="5.6" text-anchor="end" fill="#1a1a1a" stroke="#1a1a1a" stroke-width="0.1" font-weight="normal" font-family='"Liberation Sans", sans-serif'>0.014</text>
<text transform="translate(251.90,397.30) rotate(0) scale(0.98,1.0)" x="0" y="0" font-size="5.6" text-anchor="start" fill="#1a1a1a" stroke="#1a1a1a" stroke-width="0.1" font-weight="normal" font-family='"Liberation Sans", sans-serif'>S:z</text>
<text transform="translate(289.60,397.30) rotate(0) scale(0.98,1.0)" x="0" y="0" font-size="5.6" text-anchor="end" fill="#1a1a1a" stroke="#1a1a1a" stroke-width="0.1" font-weight="normal" font-family='"Liberation Sans", sans-serif'>0.298</text>
<text transform="translate(251.90,403.90) rotate(0) scale(0.98,1.0)" x="0" y="0" font-size="5.6" text-anchor="start" fill="#1a1a1a" stroke="#1a1a1a" stroke-width="0.1" font-weight="normal" font-family='"Liberation Sans", sans-serif'>S:p</text>
<text transform="translate(289.60,403.90) rotate(0) scale(0.98,1.0)" x="0" y="0" font-size="5.6" text-anchor="end" fill="#1a1a1a" stroke="#1a1a1a" stroke-width="0.1" font-weight="normal" font-family='"Liberation Sans", sans-serif'>0.766</text>
<line x1="251.80" y1="444.20" x2="419.30" y2="311.50" stroke="#444" stroke-width="0.85" />
<polyline points="251.80,444.20 285.30,417.66 318.80,391.12 335.55,377.85 344.09,372.01 348.95,369.49 364.36,367.23 376.09,350.12 398.36,338.84 414.78,314.42 419.30,311.50" fill="none" stroke="#555" stroke-width="0.8" stroke-linejoin="round" stroke-dasharray="1.2,1.2"/>
<line x1="255.32" y1="443.20" x2="255.32" y2="444.80" stroke="#666" stroke-width="0.8" />
<line x1="257.33" y1="443.20" x2="257.33" y2="444.80" stroke="#666" stroke-width="0.8" />
<line x1="261.51" y1="443.20" x2="261.51" y2="444.80" stroke="#666" stroke-width="0.8" />
<line x1="264.19" y1="443.20" x2="264.19" y2="444.80" stroke="#666" stroke-width="0.8" />
<line x1="266.20" y1="443.20" x2="266.20" y2="444.80" stroke="#666" stroke-width="0.8" />
<line x1="268.22" y1="443.20" x2="268.22" y2="444.80" stroke="#666" stroke-width="0.8" />
<line x1="271.56" y1="443.20" x2="271.56" y2="444.80" stroke="#666" stroke-width="0.8" />
<line x1="272.24" y1="443.20" x2="272.24" y2="444.80" stroke="#666" stroke-width="0.8" />
<line x1="280.28" y1="443.20" x2="280.28" y2="444.80" stroke="#666" stroke-width="0.8" />
<line x1="290.49" y1="443.20" x2="290.49" y2="444.80" stroke="#666" stroke-width="0.8" />
<line x1="304.56" y1="443.20" x2="304.56" y2="444.80" stroke="#666" stroke-width="0.8" />
<line x1="318.80" y1="443.20" x2="318.80" y2="444.80" stroke="#666" stroke-width="0.8" />
<line x1="332.54" y1="443.20" x2="332.54" y2="444.80" stroke="#666" stroke-width="0.8" />
<line x1="340.41" y1="443.20" x2="340.41" y2="444.80" stroke="#666" stroke-width="0.8" />
<line x1="349.12" y1="443.20" x2="349.12" y2="444.80" stroke="#666" stroke-width="0.8" />
<line x1="350.46" y1="443.20" x2="350.46" y2="444.80" stroke="#666" stroke-width="0.8" />
<line x1="363.36" y1="443.20" x2="363.36" y2="444.80" stroke="#666" stroke-width="0.8" />
<line x1="367.38" y1="443.20" x2="367.38" y2="444.80" stroke="#666" stroke-width="0.8" />
<line x1="376.09" y1="443.20" x2="376.09" y2="444.80" stroke="#666" stroke-width="0.8" />
<line x1="396.86" y1="443.20" x2="396.86" y2="444.80" stroke="#666" stroke-width="0.8" />
<line x1="403.56" y1="443.20" x2="403.56" y2="444.80" stroke="#666" stroke-width="0.8" />
<line x1="406.24" y1="443.20" x2="406.24" y2="444.80" stroke="#666" stroke-width="0.8" />
<line x1="408.41" y1="443.20" x2="408.41" y2="444.80" stroke="#666" stroke-width="0.8" />
<line x1="411.76" y1="443.20" x2="411.76" y2="444.80" stroke="#666" stroke-width="0.8" />
<line x1="414.44" y1="443.20" x2="414.44" y2="444.80" stroke="#666" stroke-width="0.8" />
<line x1="251.80" y1="444.20" x2="251.80" y2="434.30" stroke="#888" stroke-width="0.9" />
<line x1="417.12" y1="444.20" x2="417.12" y2="424.90" stroke="#888" stroke-width="0.9" />
</g>
<line x1="344.50" y1="415.10" x2="356.60" y2="415.10" stroke="#d0d0d0" stroke-width="3" />
<line x1="344.50" y1="421.40" x2="356.60" y2="421.40" stroke="#333" stroke-width="1" />
<line x1="344.50" y1="428.50" x2="356.60" y2="428.50" stroke="#555" stroke-width="0.8" stroke-dasharray="1.2,1.2"/>
<text transform="translate(360.90,417.65) rotate(0) scale(1.0,1.0)" x="0" y="0" font-size="5.7" text-anchor="start" fill="#222" stroke="#222" stroke-width="0.12" font-weight="normal" font-family='"Liberation Sans", sans-serif'>Ideal</text>
<text transform="translate(360.90,423.95) rotate(0) scale(1.0,1.0)" x="0" y="0" font-size="5.7" text-anchor="start" fill="#222" stroke="#222" stroke-width="0.12" font-weight="normal" font-family='"Liberation Sans", sans-serif'>Logistic calibration</text>
<text transform="translate(360.90,431.15) rotate(0) scale(1.0,1.0)" x="0" y="0" font-size="5.7" text-anchor="start" fill="#222" stroke="#222" stroke-width="0.12" font-weight="normal" font-family='"Liberation Sans", sans-serif'>Nonparametric</text>
<text transform="translate(335.40,486.30) rotate(0) scale(1.0,1.1)" x="0" y="0" font-size="8.4" text-anchor="middle" fill="#222" stroke="#222" stroke-width="0.12" font-weight="normal" font-family='"Liberation Sans", sans-serif'>Predicted Probability</text>
<text transform="translate(212.00,378.00) rotate(-90) scale(1.0,1.05)" x="0" y="0" font-size="8.064" text-anchor="middle" fill="#222" stroke="#222" stroke-width="0.12" font-weight="normal" font-family='"Liberation Sans", sans-serif'>Actual Probability</text>
<line x1="471.50" y1="54.70" x2="471.50" y2="189.50" stroke="#f1f1f1" stroke-width="1.0" />
<line x1="506.30" y1="54.70" x2="506.30" y2="189.50" stroke="#f1f1f1" stroke-width="1.0" />
<line x1="541.10" y1="54.70" x2="541.10" y2="189.50" stroke="#f1f1f1" stroke-width="1.0" />
<line x1="575.90" y1="54.70" x2="575.90" y2="189.50" stroke="#f1f1f1" stroke-width="1.0" />
<line x1="610.70" y1="54.70" x2="610.70" y2="189.50" stroke="#f1f1f1" stroke-width="1.0" />
<line x1="645.50" y1="54.70" x2="645.50" y2="189.50" stroke="#f1f1f1" stroke-width="1.0" />
<line x1="464.50" y1="168.50" x2="652.70" y2="168.50" stroke="#f1f1f1" stroke-width="1.0" />
<line x1="464.50" y1="136.00" x2="652.70" y2="136.00" stroke="#f1f1f1" stroke-width="1.0" />
<line x1="464.50" y1="103.50" x2="652.70" y2="103.50" stroke="#f1f1f1" stroke-width="1.0" />
<line x1="464.50" y1="71.00" x2="652.70" y2="71.00" stroke="#f1f1f1" stroke-width="1.0" />
<clipPath id="clipC"><rect x="464.5" y="54.7" width="188.20000000000005" height="134.8"/></clipPath>
<g clip-path="url(#clipC)">
<polyline points="471.50,71.00 474.98,73.30 478.46,75.64 481.94,78.04 485.42,80.48 488.90,82.97 492.38,85.52 495.86,88.12 499.34,90.78 502.82,93.50 506.30,96.28 509.78,99.12 513.26,102.02 516.74,104.99 520.22,108.03 523.70,111.15 527.18,114.33 530.66,117.60 534.14,120.94 537.62,124.36 541.10,127.88 544.58,131.47 548.06,135.17 551.54,138.95 555.02,142.84 558.50,146.83 561.98,150.93 565.46,155.14 568.94,159.47 572.42,163.92 575.90,168.50 579.38,173.21 582.86,178.06 586.34,183.05 589.82,188.20 593.30,193.50 596.78,198.97 600.26,204.61 603.74,210.44 607.22,216.45 610.70,222.67 614.18,229.09 617.66,235.74 621.14,242.62 624.62,249.75 628.10,257.14 631.58,264.80 635.06,272.75 638.54,281.00 642.02,289.58" fill="none" stroke="#bdbdbd" stroke-width="0.9" stroke-linejoin="round" />
<line x1="471.50" y1="168.50" x2="652.70" y2="168.50" stroke="#666" stroke-width="1.1" />
<polyline points="471.40,71.10 482.00,78.20 493.20,85.90 506.80,96.80 514.00,102.60 520.50,107.70 524.00,111.60 529.30,116.80 537.90,123.90 542.20,126.50 545.40,128.60 549.70,130.00 552.90,133.00 555.60,136.40 558.50,138.80 564.30,142.60 567.90,146.60 572.10,151.30 576.00,154.30 580.90,156.60 586.90,158.30 589.70,159.50 593.60,158.00 597.20,159.60 599.40,162.20 600.80,163.40 605.20,164.30 610.30,164.30 614.70,166.00 621.30,163.10 627.10,163.80 633.00,165.70 638.10,166.80 644.70,166.50 649.50,165.30 652.70,166.80" fill="none" stroke="#ff3c3c" stroke-width="1.3" stroke-linejoin="round" />
</g>
<line x1="464.50" y1="71.00" x2="464.50" y2="168.50" stroke="#6a6a6a" stroke-width="1" />
<line x1="460.50" y1="168.50" x2="464.50" y2="168.50" stroke="#6a6a6a" stroke-width="1" />
<text transform="translate(454.90,168.50) rotate(-90) scale(1.0,1.0)" x="0" y="0" font-size="6.2" text-anchor="middle" fill="#222" stroke="#222" stroke-width="0.12" font-weight="normal" font-family='"Liberation Sans", sans-serif'>0.0</text>
<line x1="460.50" y1="136.00" x2="464.50" y2="136.00" stroke="#6a6a6a" stroke-width="1" />
<text transform="translate(454.90,136.00) rotate(-90) scale(1.0,1.0)" x="0" y="0" font-size="6.2" text-anchor="middle" fill="#222" stroke="#222" stroke-width="0.12" font-weight="normal" font-family='"Liberation Sans", sans-serif'>0.1</text>
<line x1="460.50" y1="103.50" x2="464.50" y2="103.50" stroke="#6a6a6a" stroke-width="1" />
<text transform="translate(454.90,103.50) rotate(-90) scale(1.0,1.0)" x="0" y="0" font-size="6.2" text-anchor="middle" fill="#222" stroke="#222" stroke-width="0.12" font-weight="normal" font-family='"Liberation Sans", sans-serif'>0.2</text>
<line x1="460.50" y1="71.00" x2="464.50" y2="71.00" stroke="#6a6a6a" stroke-width="1" />
<text transform="translate(454.90,71.00) rotate(-90) scale(1.0,1.0)" x="0" y="0" font-size="6.2" text-anchor="middle" fill="#222" stroke="#222" stroke-width="0.12" font-weight="normal" font-family='"Liberation Sans", sans-serif'>0.3</text>
<line x1="471.50" y1="189.50" x2="645.50" y2="189.50" stroke="#6a6a6a" stroke-width="1" />
<line x1="471.50" y1="189.50" x2="471.50" y2="193.50" stroke="#6a6a6a" stroke-width="1" />
<text transform="translate(471.20,203.80) rotate(0) scale(1.0,1.2)" x="0" y="0" font-size="6.2" text-anchor="middle" fill="#222" stroke="#222" stroke-width="0.12" font-weight="normal" font-family='"Liberation Sans", sans-serif'>0.0</text>
<line x1="506.30" y1="189.50" x2="506.30" y2="193.50" stroke="#6a6a6a" stroke-width="1" />
<text transform="translate(506.00,203.80) rotate(0) scale(1.0,1.2)" x="0" y="0" font-size="6.2" text-anchor="middle" fill="#222" stroke="#222" stroke-width="0.12" font-weight="normal" font-family='"Liberation Sans", sans-serif'>0.1</text>
<line x1="541.10" y1="189.50" x2="541.10" y2="193.50" stroke="#6a6a6a" stroke-width="1" />
<text transform="translate(540.80,203.80) rotate(0) scale(1.0,1.2)" x="0" y="0" font-size="6.2" text-anchor="middle" fill="#222" stroke="#222" stroke-width="0.12" font-weight="normal" font-family='"Liberation Sans", sans-serif'>0.2</text>
<line x1="575.90" y1="189.50" x2="575.90" y2="193.50" stroke="#6a6a6a" stroke-width="1" />
<text transform="translate(575.60,203.80) rotate(0) scale(1.0,1.2)" x="0" y="0" font-size="6.2" text-anchor="middle" fill="#222" stroke="#222" stroke-width="0.12" font-weight="normal" font-family='"Liberation Sans", sans-serif'>0.3</text>
<line x1="610.70" y1="189.50" x2="610.70" y2="193.50" stroke="#6a6a6a" stroke-width="1" />
<text transform="translate(610.40,203.80) rotate(0) scale(1.0,1.2)" x="0" y="0" font-size="6.2" text-anchor="middle" fill="#222" stroke="#222" stroke-width="0.12" font-weight="normal" font-family='"Liberation Sans", sans-serif'>0.4</text>
<line x1="645.50" y1="189.50" x2="645.50" y2="193.50" stroke="#6a6a6a" stroke-width="1" />
<text transform="translate(645.20,203.80) rotate(0) scale(1.0,1.2)" x="0" y="0" font-size="6.2" text-anchor="middle" fill="#222" stroke="#222" stroke-width="0.12" font-weight="normal" font-family='"Liberation Sans", sans-serif'>0.5</text>
<text x="558.20" y="219.70" font-size="6.3" text-anchor="middle" fill="#222" stroke="#222" stroke-width="0.12" font-weight="normal" font-family='"Liberation Sans", sans-serif' >High Risk Threshold</text>
<rect x="587.50" y="56.50" width="65.00" height="30.00" stroke="#4a4a4a" stroke-width="1" fill="#fff"/>
<line x1="592.90" y1="64.30" x2="605.00" y2="64.30" stroke="#ff6060" stroke-width="1.5" />
<text x="610.60" y="66.30" font-size="6.3" text-anchor="start" fill="#222" stroke="#222" stroke-width="0.12" font-weight="normal" font-family='"Liberation Sans", sans-serif' >validation_set</text>
<line x1="592.90" y1="72.00" x2="605.00" y2="72.00" stroke="#c8c8c8" stroke-width="1.0" />
<text x="610.60" y="74.00" font-size="6.3" text-anchor="start" fill="#222" stroke="#222" stroke-width="0.12" font-weight="normal" font-family='"Liberation Sans", sans-serif' >All</text>
<line x1="592.90" y1="79.60" x2="605.00" y2="79.60" stroke="#666" stroke-width="1.5" />
<text x="610.60" y="81.60" font-size="6.3" text-anchor="start" fill="#222" stroke="#222" stroke-width="0.12" font-weight="normal" font-family='"Liberation Sans", sans-serif' >None</text>
<line x1="471.50" y1="320.80" x2="471.50" y2="455.50" stroke="#f1f1f1" stroke-width="1.0" />
<line x1="500.50" y1="320.80" x2="500.50" y2="455.50" stroke="#f1f1f1" stroke-width="1.0" />
<line x1="529.50" y1="320.80" x2="529.50" y2="455.50" stroke="#f1f1f1" stroke-width="1.0" />
<line x1="558.50" y1="320.80" x2="558.50" y2="455.50" stroke="#f1f1f1" stroke-width="1.0" />
<line x1="587.50" y1="320.80" x2="587.50" y2="455.50" stroke="#f1f1f1" stroke-width="1.0" />
<line x1="616.50" y1="320.80" x2="616.50" y2="455.50" stroke="#f1f1f1" stroke-width="1.0" />
<line x1="645.50" y1="320.80" x2="645.50" y2="455.50" stroke="#f1f1f1" stroke-width="1.0" />
<line x1="464.50" y1="434.50" x2="652.60" y2="434.50" stroke="#f1f1f1" stroke-width="1.0" />
<line x1="464.50" y1="402.10" x2="652.60" y2="402.10" stroke="#f1f1f1" stroke-width="1.0" />
<line x1="464.50" y1="369.70" x2="652.60" y2="369.70" stroke="#f1f1f1" stroke-width="1.0" />
<line x1="464.50" y1="337.30" x2="652.60" y2="337.30" stroke="#f1f1f1" stroke-width="1.0" />
<clipPath id="clipF"><rect x="464.5" y="320.8" width="188.10000000000002" height="134.7"/></clipPath>
<g clip-path="url(#clipF)">
<polyline points="471.50,337.30 474.40,339.59 477.30,341.93 480.20,344.31 483.10,346.75 486.00,349.24 488.90,351.78 491.80,354.37 494.70,357.02 497.60,359.73 500.50,362.50 503.40,365.33 506.30,368.23 509.20,371.19 512.10,374.22 515.00,377.32 517.90,380.50 520.80,383.75 523.70,387.09 526.60,390.50 529.50,394.00 532.40,397.59 535.30,401.27 538.20,405.05 541.10,408.92 544.00,412.90 546.90,416.99 549.80,421.18 552.70,425.50 555.60,429.94 558.50,434.50 561.40,439.20 564.30,444.03 567.20,449.01 570.10,454.14 573.00,459.42 575.90,464.88 578.80,470.50 581.70,476.31 584.60,482.30 587.50,488.50 590.40,494.91 593.30,501.53 596.20,508.39 599.10,515.50 602.00,522.86 604.90,530.50 607.80,538.42 610.70,546.65 613.60,555.21" fill="none" stroke="#bdbdbd" stroke-width="0.9" stroke-linejoin="round" />
<line x1="471.50" y1="434.50" x2="652.60" y2="434.50" stroke="#666" stroke-width="1.1" />
<polyline points="471.40,337.30 495.00,356.80 514.40,376.10 517.60,380.40 522.90,387.90 529.40,393.30 533.70,395.50 538.00,400.40 541.20,400.40 544.40,405.10 547.60,407.30 555.10,416.90 563.60,424.30 569.90,424.30 573.00,426.40 575.70,424.80 580.10,428.30 584.00,429.50 588.70,428.70 592.70,428.30 598.20,428.60 603.70,431.90 609.90,432.20 628.80,432.60 642.90,433.00 644.50,433.40 652.60,433.60" fill="none" stroke="#4c4cff" stroke-width="1.3" stroke-linejoin="round" />
</g>
<line x1="464.50" y1="337.30" x2="464.50" y2="434.50" stroke="#6a6a6a" stroke-width="1" />
<line x1="460.50" y1="434.50" x2="464.50" y2="434.50" stroke="#6a6a6a" stroke-width="1" />
<text transform="translate(455.90,434.50) rotate(-90) scale(1.0,1.0)" x="0" y="0" font-size="6.2" text-anchor="middle" fill="#222" stroke="#222" stroke-width="0.12" font-weight="normal" font-family='"Liberation Sans", sans-serif'>0.0</text>
<line x1="460.50" y1="402.10" x2="464.50" y2="402.10" stroke="#6a6a6a" stroke-width="1" />
<text transform="translate(455.90,402.10) rotate(-90) scale(1.0,1.0)" x="0" y="0" font-size="6.2" text-anchor="middle" fill="#222" stroke="#222" stroke-width="0.12" font-weight="normal" font-family='"Liberation Sans", sans-serif'>0.1</text>
<line x1="460.50" y1="369.70" x2="464.50" y2="369.70" stroke="#6a6a6a" stroke-width="1" />
<text transform="translate(455.90,369.70) rotate(-90) scale(1.0,1.0)" x="0" y="0" font-size="6.2" text-anchor="middle" fill="#222" stroke="#222" stroke-width="0.12" font-weight="normal" font-family='"Liberation Sans", sans-serif'>0.2</text>
<line x1="460.50" y1="337.30" x2="464.50" y2="337.30" stroke="#6a6a6a" stroke-width="1" />
<text transform="translate(455.90,337.30) rotate(-90) scale(1.0,1.0)" x="0" y="0" font-size="6.2" text-anchor="middle" fill="#222" stroke="#222" stroke-width="0.12" font-weight="normal" font-family='"Liberation Sans", sans-serif'>0.3</text>
<line x1="471.50" y1="455.50" x2="645.50" y2="455.50" stroke="#6a6a6a" stroke-width="1" />
<line x1="471.50" y1="455.50" x2="471.50" y2="459.50" stroke="#6a6a6a" stroke-width="1" />
<text transform="translate(471.20,469.60) rotate(0) scale(1.0,1.2)" x="0" y="0" font-size="6.2" text-anchor="middle" fill="#222" stroke="#222" stroke-width="0.12" font-weight="normal" font-family='"Liberation Sans", sans-serif'>0.0</text>
<line x1="500.50" y1="455.50" x2="500.50" y2="459.50" stroke="#6a6a6a" stroke-width="1" />
<text transform="translate(500.20,469.60) rotate(0) scale(1.0,1.2)" x="0" y="0" font-size="6.2" text-anchor="middle" fill="#222" stroke="#222" stroke-width="0.12" font-weight="normal" font-family='"Liberation Sans", sans-serif'>0.1</text>
<line x1="529.50" y1="455.50" x2="529.50" y2="459.50" stroke="#6a6a6a" stroke-width="1" />
<text transform="translate(529.20,469.60) rotate(0) scale(1.0,1.2)" x="0" y="0" font-size="6.2" text-anchor="middle" fill="#222" stroke="#222" stroke-width="0.12" font-weight="normal" font-family='"Liberation Sans", sans-serif'>0.2</text>
<line x1="558.50" y1="455.50" x2="558.50" y2="459.50" stroke="#6a6a6a" stroke-width="1" />
<text transform="translate(558.20,469.60) rotate(0) scale(1.0,1.2)" x="0" y="0" font-size="6.2" text-anchor="middle" fill="#222" stroke="#222" stroke-width="0.12" font-weight="normal" font-family='"Liberation Sans", sans-serif'>0.3</text>
<line x1="587.50" y1="455.50" x2="587.50" y2="459.50" stroke="#6a6a6a" stroke-width="1" />
<text transform="translate(587.20,469.60) rotate(0) scale(1.0,1.2)" x="0" y="0" font-size="6.2" text-anchor="middle" fill="#222" stroke="#222" stroke-width="0.12" font-weight="normal" font-family='"Liberation Sans", sans-serif'>0.4</text>
<line x1="616.50" y1="455.50" x2="616.50" y2="459.50" stroke="#6a6a6a" stroke-width="1" />
<text transform="translate(616.20,469.60) rotate(0) scale(1.0,1.2)" x="0" y="0" font-size="6.2" text-anchor="middle" fill="#222" stroke="#222" stroke-width="0.12" font-weight="normal" font-family='"Liberation Sans", sans-serif'>0.5</text>
<line x1="645.50" y1="455.50" x2="645.50" y2="459.50" stroke="#6a6a6a" stroke-width="1" />
<text transform="translate(645.20,469.60) rotate(0) scale(1.0,1.2)" x="0" y="0" font-size="6.2" text-anchor="middle" fill="#222" stroke="#222" stroke-width="0.12" font-weight="normal" font-family='"Liberation Sans", sans-serif'>0.6</text>
<text x="558.00" y="485.70" font-size="6.3" text-anchor="middle" fill="#222" stroke="#222" stroke-width="0.12" font-weight="normal" font-family='"Liberation Sans", sans-serif' >High Risk Threshold</text>
<text transform="translate(439.30,388.50) rotate(-90) scale(1.0,0.8)" x="0" y="0" font-size="6.65" text-anchor="middle" fill="#1a1a1a" stroke="#1a1a1a" stroke-width="0.3" font-weight="normal" font-family='"Liberation Sans", sans-serif'>Net Benefit</text>
<rect x="593.50" y="322.50" width="59.00" height="30.00" stroke="#4a4a4a" stroke-width="1" fill="#fff"/>
<line x1="599.30" y1="330.30" x2="611.70" y2="330.30" stroke="#7070ff" stroke-width="1.5" />
<text x="617.00" y="332.30" font-size="6.3" text-anchor="start" fill="#222" stroke="#222" stroke-width="0.12" font-weight="normal" font-family='"Liberation Sans", sans-serif' >training_set</text>
<line x1="599.30" y1="337.90" x2="611.70" y2="337.90" stroke="#c8c8c8" stroke-width="1.0" />
<text x="617.00" y="339.90" font-size="6.3" text-anchor="start" fill="#222" stroke="#222" stroke-width="0.12" font-weight="normal" font-family='"Liberation Sans", sans-serif' >All</text>
<line x1="599.30" y1="345.60" x2="611.70" y2="345.60" stroke="#666" stroke-width="1.5" />
<text x="617.00" y="347.60" font-size="6.3" text-anchor="start" fill="#222" stroke="#222" stroke-width="0.12" font-weight="normal" font-family='"Liberation Sans", sans-serif' >None</text>
</svg>
</body></html>
